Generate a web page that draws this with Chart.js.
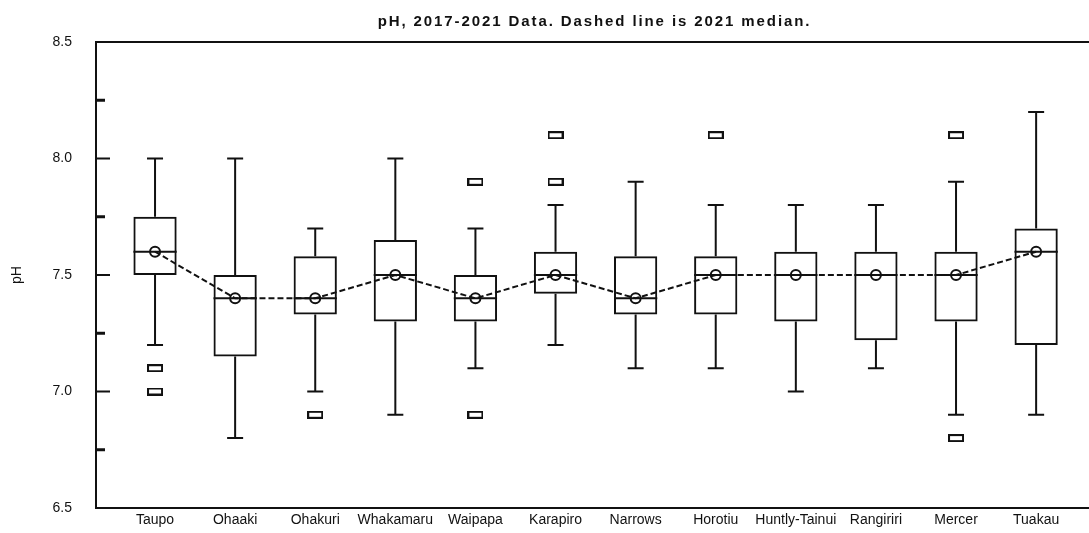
<!DOCTYPE html>
<html>
<head>
<meta charset="utf-8">
<script src="https://cdn.jsdelivr.net/npm/chart.js@4.4.0/dist/chart.umd.min.js"></script>
<style>
html, body { margin: 0; padding: 0; background: #fff; overflow: hidden; }
#wrap { width: 1089px; height: 533px; position: relative; }
canvas { display: block; }
</style>
</head>
<body>
<div id="wrap"><canvas id="ph-chart"></canvas></div>
<script>
// box plot values per site
const sites = ['Taupo', 'Ohaaki', 'Ohakuri', 'Whakamaru', 'Waipapa', 'Karapiro', 'Narrows', 'Horotiu', 'Huntly-Tainui', 'Rangiriri', 'Mercer', 'Tuakau'];
const whiskerLow  = [7.2, 6.8, 7.0, 6.9, 7.1, 7.2, 7.1, 7.1, 7.0, 7.1, 6.9, 6.9];
const quartile1   = [7.5, 7.15, 7.33, 7.3, 7.3, 7.42, 7.33, 7.33, 7.3, 7.22, 7.3, 7.2];
const medians     = [7.6, 7.4, 7.4, 7.5, 7.4, 7.5, 7.4, 7.5, 7.5, 7.5, 7.5, 7.6];
const quartile3   = [7.75, 7.5, 7.58, 7.65, 7.5, 7.6, 7.58, 7.58, 7.6, 7.6, 7.6, 7.7];
const whiskerHigh = [8.0, 8.0, 7.7, 8.0, 7.7, 7.8, 7.9, 7.8, 7.8, 7.8, 7.9, 8.2];
const outliers    = [[7.1, 7.0], [], [6.9], [], [7.9, 6.9], [8.1, 7.9], [], [8.1], [], [], [8.1, 6.8], []];
const median2021  = [7.6, 7.4, 7.4, 7.5, 7.4, 7.5, 7.4, 7.5, 7.5, 7.5, 7.5, 7.6];
const yTicks = [6.5, 7.0, 7.5, 8.0, 8.5];

const titleText = 'pH, 2017-2021 Data. Dashed line is 2021 median.';
const ink = '#111';

Chart.defaults.font.family = "'Liberation Sans', Arial, sans-serif";
Chart.defaults.font.size = 14;
Chart.defaults.color = ink;

// hollow rectangle used for outlier points
const outlierMark = document.createElement('canvas');
outlierMark.width = 16;
outlierMark.height = 8;
const om = outlierMark.getContext('2d');
om.strokeStyle = ink;
om.lineWidth = 2;
om.strokeRect(1, 1, 14, 6);

const boxData = sites.map((s, i) => ({x: i + 1, y: [quartile1[i], quartile3[i]]}));
const lineData = sites.map((s, i) => ({x: i + 1, y: median2021[i]}));
const outlierData = [];
outliers.forEach((list, i) => list.forEach(v => outlierData.push({x: i + 1, y: v})));

// whiskers, caps and medians go on after the boxes are drawn
const boxExtras = {
  id: 'boxExtras',
  afterDatasetDraw(chart, args) {
    if (args.index !== 1) return;
    const ctx = chart.ctx;
    const xs = chart.scales.x, ys = chart.scales.y;
    const bars = args.meta.data;
    ctx.save();
    ctx.strokeStyle = ink;
    ctx.lineWidth = 2;
    sites.forEach((s, i) => {
      const x = xs.getPixelForValue(i + 1);
      const half = bars[i].width / 2;
      const cap = 8;
      ctx.beginPath();
      // upper whisker
      ctx.moveTo(x, ys.getPixelForValue(quartile3[i]));
      ctx.lineTo(x, ys.getPixelForValue(whiskerHigh[i]));
      ctx.moveTo(x - cap, ys.getPixelForValue(whiskerHigh[i]));
      ctx.lineTo(x + cap, ys.getPixelForValue(whiskerHigh[i]));
      // lower whisker
      ctx.moveTo(x, ys.getPixelForValue(quartile1[i]));
      ctx.lineTo(x, ys.getPixelForValue(whiskerLow[i]));
      ctx.moveTo(x - cap, ys.getPixelForValue(whiskerLow[i]));
      ctx.lineTo(x + cap, ys.getPixelForValue(whiskerLow[i]));
      // median
      ctx.moveTo(x - half, ys.getPixelForValue(medians[i]));
      ctx.lineTo(x + half, ys.getPixelForValue(medians[i]));
      ctx.stroke();
    });
    ctx.restore();
  }
};

// frame top line, inward ticks and the title
const frame = {
  id: 'frame',
  afterDraw(chart) {
    const ctx = chart.ctx;
    const area = chart.chartArea;
    const ys = chart.scales.y;
    ctx.save();
    ctx.strokeStyle = ink;
    ctx.lineWidth = 2;
    ctx.beginPath();
    ctx.moveTo(area.left, area.top);
    ctx.lineTo(area.right, area.top);
    ctx.stroke();

    ys.ticks.forEach((t, k) => {
      const y = ys.getPixelForValue(t.value);
      ctx.beginPath();
      ctx.lineWidth = 2;
      ctx.moveTo(area.left, y);
      ctx.lineTo(area.left + 14, y);
      ctx.stroke();
      if (k < ys.ticks.length - 1) {
        const ym = ys.getPixelForValue((t.value + ys.ticks[k + 1].value) / 2);
        ctx.beginPath();
        ctx.lineWidth = 3;
        ctx.moveTo(area.left, ym);
        ctx.lineTo(area.left + 9, ym);
        ctx.stroke();
      }
    });

    ctx.fillStyle = ink;
    ctx.font = "bold 15px 'Liberation Sans', Arial, sans-serif";
    ctx.letterSpacing = '1.9px';
    ctx.textAlign = 'center';
    ctx.textBaseline = 'alphabetic';
    ctx.fillText(titleText, (area.left + area.right) / 2 + 2, 26);
    ctx.restore();
  }
};

const ctx = document.getElementById('ph-chart').getContext('2d');

new Chart(ctx, {
  type: 'bar',
  data: {
    datasets: [
      {
        type: 'line',
        label: '2021 median',
        data: lineData,
        borderColor: ink,
        borderWidth: 2,
        borderDash: [6, 3],
        tension: 0,
        fill: false,
        pointRadius: 5,
        pointBorderWidth: 2,
        pointBorderColor: ink,
        pointBackgroundColor: 'rgba(0,0,0,0)'
      },
      {
        type: 'bar',
        label: 'boxes',
        data: boxData,
        backgroundColor: 'rgba(0,0,0,0)',
        borderColor: ink,
        borderWidth: 2,
        borderSkipped: false,
        barPercentage: 0.54,
        categoryPercentage: 1
      },
      {
        type: 'scatter',
        label: 'outliers',
        data: outlierData,
        pointStyle: outlierMark,
        pointRadius: 8
      }
    ]
  },
  options: {
    responsive: true,
    maintainAspectRatio: false,
    animation: false,
    layout: { autoPadding: false, padding: { top: 42, left: 0, right: 0, bottom: 0 } },
    plugins: {
      legend: { display: false },
      tooltip: { enabled: false },
      title: { display: false }
    },
    scales: {
      x: {
        type: 'linear',
        min: 0.263,
        max: 12.66,
        offset: false,
        grid: { display: false, offset: false, drawTicks: false },
        border: { display: true, color: ink, width: 2 },
        afterBuildTicks: (axis) => { axis.ticks = sites.map((s, i) => ({value: i + 1})); },
        afterFit: (axis) => {
          axis.height = 25;
          axis.paddingLeft = 0;
          axis.paddingRight = 0;
        },
        ticks: {
          autoSkip: false,
          maxRotation: 0,
          padding: 4,
          callback: (v) => sites[v - 1]
        }
      },
      y: {
        min: 6.5,
        max: 8.5,
        grid: { display: false, drawTicks: false },
        border: { display: true, color: ink, width: 2 },
        afterBuildTicks: (axis) => { axis.ticks = yTicks.map(v => ({value: v})); },
        afterFit: (axis) => {
          axis.width = 96;
          axis.paddingTop = 0;
          axis.paddingBottom = 0;
        },
        ticks: {
          padding: 24,
          callback: (v) => v.toFixed(1)
        },
        title: {
          display: true,
          text: 'pH',
          font: { size: 14 },
          padding: { top: 9, bottom: 0 }
        }
      }
    }
  },
  plugins: [boxExtras, frame]
});
</script>
</body>
</html>
